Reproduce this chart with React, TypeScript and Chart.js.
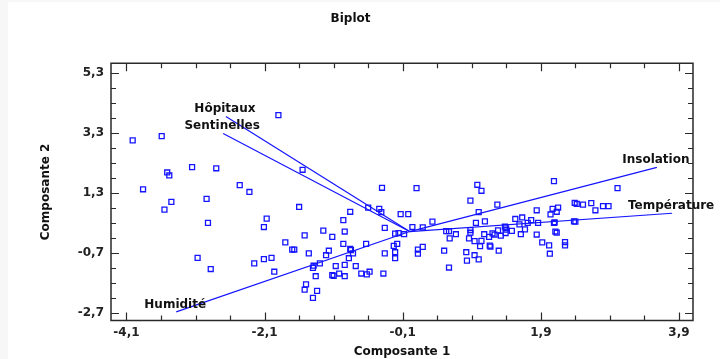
import React, { useEffect, useRef } from 'react';
import { Chart, registerables } from 'chart.js';

Chart.register(...registerables);

// Observation scores (Composante 1, Composante 2)
const scoreX = [
  -1.90, -3.59, -4.01, -3.51, -3.48, -3.15, -2.80, -3.86, -2.46, -2.32,
  -3.45, -2.94, -3.55, -2.92, -2.07, -2.11, -1.80, -3.07, -2.88, -2.25,
  -2.11, -2.00, -1.96, -1.60, -1.70, -1.67, -1.55, -0.40, -0.86, -0.60,
  -0.44, -0.41, -0.13, -0.02, -0.96, -0.36, 0.04, -1.25, -0.94, -1.52,
  -1.12, -0.21, -0.16, -0.08, -0.96, -0.63, -0.23, -0.18, -1.17, -0.86,
  -0.85, -1.46, -1.21, -0.82, -0.88, -0.21, -0.21, -0.36, -1.30, -1.39,
  -1.40, -1.07, -0.94, -0.78, -1.02, -1.12, -1.10, -0.94, -1.36, -0.70,
  -0.58, -0.62, -0.38, -1.50, -1.52, -1.34, -1.40, 0.10, 0.88, 0.98,
  1.04, 1.00, 0.33, 0.96, 1.09, 0.19, 0.53, 0.57, 0.67, 0.58,
  0.86, 0.88, 0.94, 0.19, 0.12, 0.12, 0.50, 0.82, 0.94, 1.00,
  0.83, 0.57, 1.27, 1.53, 1.63, 1.59, 1.08, 1.15, 1.20, 1.23,
  1.28, 1.32, 1.38, 1.39, 1.40, 1.48, 1.61, 1.67, 1.04, 1.02,
  1.16, 1.17, 1.29, 0.88, 2.09, 3.01, 1.84, 2.07, 2.15, 2.13,
  2.04, 2.39, 2.42, 2.51, 2.63, 2.69, 2.80, 2.88, 1.76, 1.71,
  1.86, 2.09, 2.38, 1.84, 2.11, 2.13, 1.92, 2.02, 2.25, 2.25,
  2.03, 2.10, 2.40, 1.39
];
const scoreY = [
  3.88, 3.18, 3.04, 1.97, 1.87, 2.15, 2.11, 1.41, 1.55, 1.32,
  0.99, 1.09, 0.73, 0.29, 0.43, 0.15, -0.36, -0.88, -1.25, -1.06,
  -0.92, -0.88, -1.34, 0.82, -0.60, -0.60, 2.06, 1.46, 0.66, 0.80,
  0.76, 0.65, 0.58, 0.58, 0.38, 0.12, 0.15, 0.03, 0.00, -0.13,
  -0.18, -0.07, -0.05, -0.09, -0.41, -0.41, -0.48, -0.41, -0.64, -0.58,
  -0.62, -0.73, -0.79, -0.73, -0.89, -0.69, -0.89, -0.73, -1.06, -1.14,
  -1.21, -1.15, -1.11, -1.15, -1.40, -1.45, -1.48, -1.49, -1.49, -1.40,
  -1.34, -1.43, -1.40, -1.76, -1.94, -1.98, -2.21, 1.45, 1.03, 1.56,
  1.36, 0.65, 0.33, 0.29, 0.34, 0.14, 0.01, 0.01, -0.09, -0.23,
  -0.23, -0.04, -0.32, -0.51, -0.60, -0.74, -0.64, -0.69, -0.79, -0.93,
  -0.97, -1.20, 0.90, 0.42, 0.47, 0.24, -0.09, -0.18, -0.06, -0.10,
  0.04, -0.14, 0.16, -0.05, 0.06, 0.02, -0.09, 0.07, -0.31, -0.49,
  -0.47, -0.50, -0.64, 0.05, 1.68, 1.45, 0.71, 0.76, 0.80, 0.66,
  0.57, 0.96, 0.92, 0.90, 0.95, 0.71, 0.85, 0.85, 0.38, 0.29,
  0.29, 0.29, 0.34, -0.10, 0.00, -0.04, -0.36, -0.46, -0.35, -0.46,
  -0.74, 0.31, 0.33, 0.14
];

// Variable loadings (vectors from origin)
const variableNames = ['Hôpitaux', 'Sentinelles', 'Insolation', 'Température', 'Humidité'];
const loadingX = [-2.66, -2.70, 3.58, 3.80, -3.38];
const loadingY = [3.84, 3.27, 2.14, 0.61, -2.68];

// Axis ticks
const xMajorTicks = [-4.1, -2.1, -0.1, 1.9, 3.9];
const xTickLabels = ['-4,1', '-2,1', '-0,1', '1,9', '3,9'];
const yMajorTicks = [-2.7, -0.7, 1.3, 3.3, 5.3];
const yTickLabels = ['-2,7', '-0,7', '1,3', '3,3', '5,3'];
const minorStep = 0.5;

const xMin = -4.324;
const xMax = 4.103;
const yMin = -2.966;
const yMax = 5.61;

const BLUE = '#1414ff';
const FONT = '"DejaVu Sans", sans-serif';

function allTicks(majors: number[]): number[] {
  const out: number[] = [];
  const first = majors[0];
  const last = majors[majors.length - 1];
  const n = Math.round((last - first) / minorStep);
  for (let i = 0; i <= n; i++) out.push(Math.round((first + i * minorStep) * 100) / 100);
  return out;
}

function isMajor(majors: number[], v: number) {
  return majors.some((m) => Math.abs(m - v) < 1e-6);
}

const framePlugin = {
  id: 'biplotFrame',
  afterDraw(chart: any) {
    const ctx: CanvasRenderingContext2D = chart.ctx;
    const area = chart.chartArea;
    const L = area.left;
    const R = area.right;
    const T = area.top;
    const B = area.bottom;
    const xs = chart.scales.x;
    const ys = chart.scales.y;
    ctx.save();
    ctx.setLineDash([]);
    ctx.globalAlpha = 1;
    ctx.globalCompositeOperation = 'source-over';
    ctx.strokeStyle = '#2a2a2a';
    ctx.lineWidth = 1.5;
    ctx.beginPath();
    ctx.moveTo(L, T);
    ctx.lineTo(R, T);
    ctx.lineTo(R, B);
    ctx.lineTo(L, B);
    ctx.closePath();
    ctx.stroke();

    ctx.lineWidth = 1.2;
    ctx.beginPath();
    allTicks(xMajorTicks).forEach((v) => {
      const px = Math.round(xs.getPixelForValue(v)) + 0.5;
      const len = isMajor(xMajorTicks, v) ? 8 : 5;
      ctx.moveTo(px, B);
      ctx.lineTo(px, B - len);
      ctx.moveTo(px, T);
      ctx.lineTo(px, T + len);
    });
    allTicks(yMajorTicks).forEach((v) => {
      const py = Math.round(ys.getPixelForValue(v)) + 0.5;
      const len = isMajor(yMajorTicks, v) ? 8 : 5;
      ctx.moveTo(L, py);
      ctx.lineTo(L + len, py);
      ctx.moveTo(R, py);
      ctx.lineTo(R - len, py);
    });
    ctx.stroke();

    // variable labels at vector tips
    ctx.fillStyle = '#111';
    ctx.font = `bold 12px ${FONT}`;
    ctx.textAlign = 'center';
    ctx.textBaseline = 'alphabetic';
    variableNames.forEach((name, i) => {
      const px = xs.getPixelForValue(loadingX[i]);
      const py = ys.getPixelForValue(loadingY[i]);
      ctx.fillText(name, px - 1, py - 4);
    });
    ctx.restore();
  },
};

export default function App() {
  const canvasRef = useRef<HTMLCanvasElement | null>(null);

  useEffect(() => {
    document.body.style.margin = '0';
    document.body.style.background = '#f7f7f7';
    document.body.style.overflow = 'hidden';
    const canvas = canvasRef.current;
    if (!canvas) return;

    const points = scoreX.map((x, i) => ({ x, y: scoreY[i] }));
    const vectorSets = variableNames.map((name, i) => ({
      label: name,
      data: [
        { x: 0, y: 0 },
        { x: loadingX[i], y: loadingY[i] },
      ],
      showLine: true,
      borderColor: BLUE,
      borderWidth: 1.2,
      pointRadius: 0,
      fill: false,
    }));

    const chart = new Chart(canvas, {
      type: 'scatter',
      data: {
        datasets: [
          ...vectorSets,
          {
            label: 'Observations',
            data: points,
            pointStyle: 'rect',
            pointRadius: 3.5,
            borderWidth: 1.3,
            borderColor: BLUE,
            backgroundColor: 'rgba(0,0,0,0)',
            showLine: false,
          } as any,
        ],
      },
      options: {
        responsive: false,
        animation: false,
        events: [],
        layout: { padding: { left: 0, right: 27, top: 0, bottom: 0 } },
        plugins: {
          legend: { display: false },
          tooltip: { enabled: false },
          title: {
            display: true,
            text: 'Biplot',
            color: '#111',
            font: { family: FONT, size: 12, weight: 'bold' },
            padding: { top: 10, bottom: 36.9 },
          },
        },
        scales: {
          x: {
            type: 'linear',
            min: xMin,
            max: xMax,
            grid: { display: false, drawTicks: false },
            border: { display: false },
            afterBuildTicks: (scale: any) => {
              scale.ticks = allTicks(xMajorTicks).map((v) => ({ value: v }));
            },
            afterFit: (scale: any) => {
              scale.height = 38.5;
            },
            ticks: {
              autoSkip: false,
              maxRotation: 0,
              padding: 5,
              color: '#222',
              font: { family: FONT, size: 12, weight: 'bold' },
              callback: (value: any) => {
                const i = xMajorTicks.findIndex((m) => Math.abs(m - value) < 1e-6);
                return i >= 0 ? xTickLabels[i] : '';
              },
            },
            title: {
              display: true,
              text: 'Composante 1',
              color: '#111',
              font: { family: FONT, size: 12, weight: 'bold' },
              padding: { top: 0, bottom: 0 },
            },
          },
          y: {
            type: 'linear',
            min: yMin,
            max: yMax,
            grid: { display: false, drawTicks: false },
            border: { display: false },
            afterBuildTicks: (scale: any) => {
              scale.ticks = allTicks(yMajorTicks).map((v) => ({ value: v }));
            },
            afterFit: (scale: any) => {
              scale.width = 103;
            },
            ticks: {
              autoSkip: false,
              padding: 7,
              color: '#222',
              font: { family: FONT, size: 12, weight: 'bold' },
              callback: (value: any) => {
                const i = yMajorTicks.findIndex((m) => Math.abs(m - value) < 1e-6);
                return i >= 0 ? yTickLabels[i] : '';
              },
            },
            title: {
              display: true,
              text: 'Composante 2',
              color: '#111',
              font: { family: FONT, size: 12, weight: 'bold' },
              padding: { top: 31, bottom: 0 },
            },
          },
        },
      },
      plugins: [framePlugin],
    } as any);

    return () => chart.destroy();
  }, []);

  return (
    <div
      style={{
        position: 'absolute',
        left: 8,
        top: 2,
        width: 712,
        height: 357,
        background: '#ffffff',
      }}
    >
      <canvas ref={canvasRef} width={712} height={357} style={{ display: 'block' }} />
    </div>
  );
}
